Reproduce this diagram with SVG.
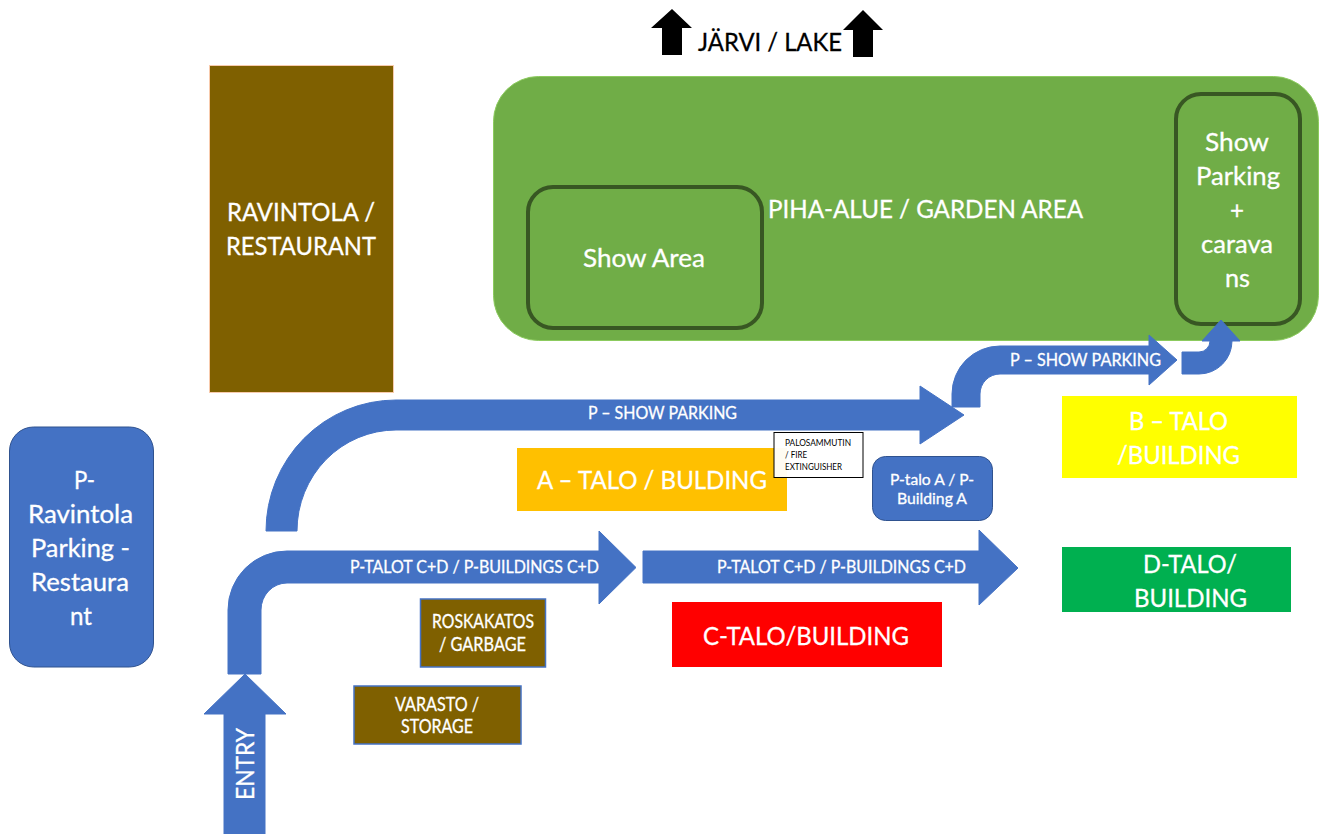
<svg xmlns="http://www.w3.org/2000/svg" width="1325" height="834" viewBox="0 0 1325 834">
<style>
text{font-family:"Lato","Carlito","Open Sans",sans-serif;fill:#fff;stroke:#fff;stroke-width:.3}
.f26{font-size:25px}.f24{font-size:25px}.f16{font-size:17.5px}.f15{font-size:15.5px}.f17{font-size:18.5px}.f9{font-size:9.5px;fill:#000;stroke:none}
.dark{fill:#000;stroke:#000}
.blue{fill:#4472C4;stroke:#4472C4;stroke-width:1}
.brown{fill:#7F6000;stroke:#4472C4;stroke-width:1.5}
.inner{fill:#70AD47;stroke:#385723;stroke-width:4}
.k{fill:#000}
</style>
<rect width="1325" height="834" fill="#fff"/>

<g id="lake">
<path class="k" d="M672 9L692 28H682V55H662V28H651Z"/>
<path class="k" d="M863 10L883 30H873V57H853V30H843Z"/>
<text x="698" y="51" class="f26 dark" textLength="144" lengthAdjust="spacingAndGlyphs">JÄRVI / LAKE</text>
</g>

<g id="garden">
<rect x="493.500" y="76.500" width="825" height="264" rx="45" fill="#70AD47" stroke="#8CCB5E" stroke-width="1"/>
<text x="768" y="217.500" class="f26" textLength="315" lengthAdjust="spacingAndGlyphs">PIHA-ALUE / GARDEN AREA</text>
</g>
<g id="show-area">
<rect class="inner" x="528" y="187" width="234" height="141" rx="25"/>
<text x="583" y="267" class="f26" textLength="122" lengthAdjust="spacingAndGlyphs">Show Area</text>
</g>
<g id="show-parking">
<rect class="inner" x="1176" y="94" width="124" height="230" rx="25"/>
<text x="1205" y="151" class="f26" textLength="64" lengthAdjust="spacingAndGlyphs">Show</text>
<text x="1196" y="185" class="f26" textLength="84" lengthAdjust="spacingAndGlyphs">Parking</text>
<text x="1230" y="219" class="f26" textLength="14" lengthAdjust="spacingAndGlyphs">+</text>
<text x="1201" y="253" class="f26" textLength="72" lengthAdjust="spacingAndGlyphs">carava</text>
<text x="1225" y="287" class="f26" textLength="25" lengthAdjust="spacingAndGlyphs">ns</text>
</g>

<g id="restaurant">
<rect x="209.500" y="65.500" width="184" height="327" fill="#7F6000" stroke="#F8CBAD" stroke-width="1"/>
<text x="227" y="221" class="f26" textLength="148" lengthAdjust="spacingAndGlyphs">RAVINTOLA /</text>
<text x="226" y="255" class="f26" textLength="150" lengthAdjust="spacingAndGlyphs">RESTAURANT</text>
</g>

<g id="p-restaurant">
<rect x="9.500" y="427" width="144" height="240" rx="24" fill="#4472C4" stroke="#2F528F" stroke-width="1"/>
<text x="74" y="489" class="f26" textLength="21" lengthAdjust="spacingAndGlyphs">P-</text>
<text x="28" y="523" class="f26" textLength="105" lengthAdjust="spacingAndGlyphs">Ravintola</text>
<text x="31" y="557" class="f26" textLength="99" lengthAdjust="spacingAndGlyphs">Parking -</text>
<text x="31" y="591" class="f26" textLength="98" lengthAdjust="spacingAndGlyphs">Restaura</text>
<text x="70" y="625" class="f26" textLength="22" lengthAdjust="spacingAndGlyphs">nt</text>
</g>

<g id="connectors">
<path class="blue" d="M245 674L286 714H265V834H224V714H204Z"/>
<path class="blue" d="M228 674V610A59 59 0 0 1 287 551H599V531L636 567.500L599 604V583H287A26 27 0 0 0 261 610V674Z"/>
<path class="blue" d="M643 551H979V530L1018 568L979 605V583H643Z"/>
<path class="blue" d="M266 531A130 131 0 0 1 396 400H920V386L964 415L920 444V430H396A99 101 0 0 0 297 531Z"/>
<path class="blue" d="M952 407V394A48 48 0 0 1 1000 346H1149V335L1177 360L1149 385V374H1000A20 20 0 0 0 980 394V407Z"/>
<path class="blue" d="M1182 352H1199A11 11 0 0 0 1210 341H1202L1221 320L1240 341H1232A33 33 0 0 1 1199 374H1182Z"/>
<text x="588" y="419" class="f16" textLength="149" lengthAdjust="spacingAndGlyphs">P – SHOW PARKING</text>
<text x="1010" y="366" class="f16" textLength="151" lengthAdjust="spacingAndGlyphs">P – SHOW PARKING</text>
<text x="350" y="573" class="f16" textLength="249" lengthAdjust="spacingAndGlyphs">P-TALOT C+D / P-BUILDINGS C+D</text>
<text x="717" y="573" class="f16" textLength="249" lengthAdjust="spacingAndGlyphs">P-TALOT C+D / P-BUILDINGS C+D</text>
<text transform="translate(254 800) rotate(-90)" class="f24" textLength="72" lengthAdjust="spacingAndGlyphs">ENTRY</text>
</g>

<g id="building-a">
<rect x="517" y="448" width="270" height="63" fill="#FFC000"/>
<text x="537" y="489" class="f26" textLength="230" lengthAdjust="spacingAndGlyphs">A – TALO / BULDING</text>
</g>
<g id="extinguisher">
<rect x="774" y="432.500" width="89" height="45" fill="#fff" fill-opacity="0.95" stroke="#000" stroke-width="1"/>
<text x="785" y="446" class="f9" textLength="66" lengthAdjust="spacingAndGlyphs">PALOSAMMUTIN</text>
<text x="785" y="458" class="f9" textLength="22" lengthAdjust="spacingAndGlyphs">/ FIRE</text>
<text x="785" y="470" class="f9" textLength="57" lengthAdjust="spacingAndGlyphs">EXTINGUISHER</text>
</g>
<g id="p-building-a">
<rect x="872.500" y="456.500" width="120" height="64" rx="13" fill="#4472C4" stroke="#2F528F" stroke-width="1"/>
<text x="890" y="485" class="f15" textLength="84" lengthAdjust="spacingAndGlyphs">P-talo A / P-</text>
<text x="897" y="504" class="f15" textLength="70" lengthAdjust="spacingAndGlyphs">Building A</text>
</g>
<g id="building-b">
<rect x="1062" y="396" width="235" height="82" fill="#FFFF00"/>
<text x="1129" y="429.500" class="f26" textLength="99" lengthAdjust="spacingAndGlyphs">B – TALO</text>
<text x="1117" y="463.500" class="f26" textLength="123" lengthAdjust="spacingAndGlyphs">/BUILDING</text>
</g>
<g id="building-d">
<rect x="1062" y="547" width="229" height="65" fill="#00B050"/>
<text x="1143" y="572.500" class="f26" textLength="94" lengthAdjust="spacingAndGlyphs">D-TALO/</text>
<text x="1134" y="606.500" class="f26" textLength="113" lengthAdjust="spacingAndGlyphs">BUILDING</text>
</g>
<g id="building-c">
<rect x="672" y="602" width="270" height="65" fill="#FF0000"/>
<text x="703" y="644.500" class="f26" textLength="206" lengthAdjust="spacingAndGlyphs">C-TALO/BUILDING</text>
</g>
<g id="garbage">
<rect class="brown" x="420.500" y="599" width="125" height="68"/>
<text x="432" y="628" class="f17" textLength="102" lengthAdjust="spacingAndGlyphs">ROSKAKATOS</text>
<text x="439" y="651" class="f17" textLength="87" lengthAdjust="spacingAndGlyphs">/ GARBAGE</text>
</g>
<g id="storage">
<rect class="brown" x="354" y="686" width="167" height="58"/>
<text x="395" y="711" class="f17" textLength="84" lengthAdjust="spacingAndGlyphs">VARASTO /</text>
<text x="401" y="733" class="f17" textLength="72" lengthAdjust="spacingAndGlyphs">STORAGE</text>
</g>
</svg>
